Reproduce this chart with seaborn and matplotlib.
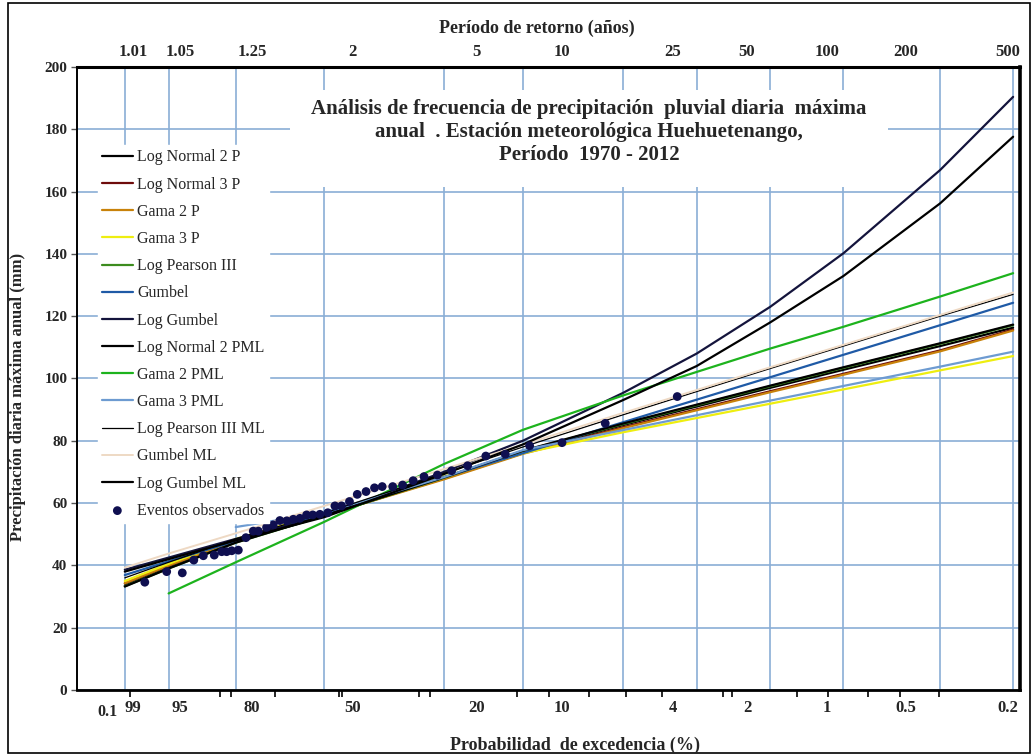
import numpy as np
import pandas as pd
import matplotlib
matplotlib.use("Agg")
import matplotlib.pyplot as plt
import seaborn as sns
from matplotlib.ticker import FixedLocator, NullFormatter
from matplotlib.patches import Rectangle

# return periods (years) where the fitted curves are evaluated (also the grid lines)
T_nodes = [1.01, 1.05, 1.25, 2, 5, 10, 25, 50, 100, 200, 500, 1000]

# fitted curves, precipitation (mm) at T_nodes; nan = not drawn
ln2p   = [33.5, 39.2, 47.5, 56.0, 68.0, 76.5, 85.0, 91.0, 97.0, 102.8, 110.4, 116.3]
ln3p   = [34.2, 39.9, 48.0, 56.2, 67.8, 76.0, 84.3, 90.1, 95.9, 101.5, 109.0, 115.7]
g2p    = [34.3, 40.0, 48.0, 56.1, 67.6, 75.8, 84.0, 89.8, 95.6, 101.2, 108.7, 115.4]
g3p    = [35.0, 40.5, 48.5, 56.8, 68.5, 76.0, 82.7, 87.3, 91.9, 96.5, 102.6, 107.2]
lp3    = [33.3, 39.0, 47.3, 55.9, 68.1, 76.7, 85.3, 91.4, 97.5, 103.4, 111.1, 117.1]
gumbel = [36.9, 41.3, 47.8, 56.5, 68.3, 76.0, 85.9, 93.2, 100.4, 107.6, 117.1, 124.3]
lgum   = [38.6, 42.5, 48.5, 55.8, 70.0, 80.0, 95.3, 108.0, 123.0, 140.2, 166.9, 190.4]
ln2pml = [33.2, 39.0, 47.3, 56.0, 68.2, 76.8, 85.5, 91.6, 97.7, 103.6, 111.3, 117.3]
g2pml  = [np.nan, 31.0, 41.0, 54.0, 72.5, 83.5, 94.5, 102.1, 109.6, 116.6, 126.3, 133.8]
g3pml  = [np.nan, np.nan, 52.3, 57.0, 68.3, 77.0, 83.4, 88.2, 92.9, 97.6, 103.8, 108.6]
lp3ml  = [36.0, 41.0, 48.5, 56.8, 69.5, 78.0, 88.3, 95.8, 103.2, 110.4, 120.0, 127.0]
gumml  = [39.3, 43.8, 50.3, 59.1, 70.9, 78.7, 88.9, 96.3, 103.6, 110.8, 120.4, 127.6]
lgumml = [38.0, 42.0, 48.0, 55.5, 69.3, 78.8, 93.0, 104.0, 118.0, 132.9, 156.2, 177.6]

series_names = ["Log Normal 2 P", "Log Normal 3 P", "Gama 2 P", "Gama 3 P",
                "Log Pearson III", "Gumbel", "Log Gumbel", "Log Normal 2 PML",
                "Gama 2 PML", "Gama 3 PML", "Log Pearson III ML", "Gumbel ML",
                "Log Gumbel ML"]
series_values = [ln2p, ln3p, g2p, g3p, lp3, gumbel, lgum, ln2pml,
                 g2pml, g3pml, lp3ml, gumml, lgumml]
series_colors = ["#000000", "#6e0b0b", "#c8820a", "#eeee10", "#3c8c1e", "#1f5aa6",
                 "#14143c", "#000000", "#1db31d", "#6d9bd1", "#000000", "#eed9c4",
                 "#000000"]
series_widths = [1.6, 1.6, 1.6, 1.6, 1.6, 1.6, 1.6, 1.6, 1.6, 1.6, 0.9, 1.4, 1.6]

# observed annual maxima: exceedance probability (%) and precipitation (mm)
obs_prob = [97.8, 95.5, 93.1, 90.9, 88.8, 86.1, 84.1, 82.7, 81.2, 79.2, 76.8,
            74.4, 72.7, 69.9, 67.6, 65.3, 62.9, 60.6, 58.3, 56.0, 53.9, 51.5,
            48.9, 46.6, 44.5, 42.1, 39.8, 37.3, 35.0, 33.0, 30.4, 28.1, 25.8,
            23.6, 21.1, 18.7, 16.3, 13.9, 11.7, 9.4, 7.0, 4.7, 2.4]
obs_mm = [34.6, 38.0, 37.6, 41.7, 43.1, 43.3, 44.4, 44.4, 44.7, 44.9, 48.9,
          51.0, 51.0, 52.2, 53.0, 54.4, 54.3, 54.8, 55.1, 56.2, 56.2, 56.4,
          56.9, 59.1, 59.1, 60.5, 62.8, 63.7, 64.9, 65.3, 65.3, 65.8, 67.2,
          68.5, 69.0, 70.4, 72.0, 75.1, 75.7, 78.4, 79.4, 85.6, 94.2]

# axis text
top_labels = ["1.01", "1.05", "1.25", "2", "5", "10", "25", "50", "100", "200", "500"]
bottom_labels = ["99", "95", "80", "50", "20", "10", "4", "2", "1", "0.5", "0.2"]
# where the (hand placed) labels sit, as return period
label_at_T = [1.0142, 1.0696, 1.337, 2.42, 6.61, 14.3, 40.0, 80.3, 171, 362, 953]
# small tick marks along the bottom axis, as return period
bottom_marks_T = [1.0125, 1.183, 1.229, 1.493, 2.21, 2.25, 4.07, 4.45, 9.5, 12.7,
                  18.3, 25.8, 36.1, 64.1, 69.8, 129, 173, 252, 342, 495]
y_ticks = list(range(0, 201, 20))


def to_gumbel(T):
    T = np.clip(np.asarray(T, dtype=float), 1 + 1e-9, None)
    return -np.log(-np.log(1.0 - 1.0 / T))


def from_gumbel(u):
    u = np.asarray(u, dtype=float)
    return 1.0 / (1.0 - np.exp(-np.exp(-u)))


sns.set_theme(style="white")
plt.rcParams["font.family"] = ["Liberation Serif", "DejaVu Serif"]

fig = plt.figure(figsize=(10.34, 7.55), dpi=100)
ax = fig.add_axes([0.0745, 0.0861, 0.912, 0.8252])

grid_c = "#8aaed6"
for name, vals, col, lw in zip(series_names, series_values, series_colors, series_widths):
    d = pd.DataFrame({"T": T_nodes, "mm": vals}).dropna()
    sns.lineplot(data=d, x="T", y="mm", color=col, lw=lw, label=name,
                 errorbar=None, ax=ax, zorder=3)

obs = pd.DataFrame({"T": 100.0 / np.array(obs_prob), "mm": obs_mm})
sns.scatterplot(data=obs, x="T", y="mm", color="#0f0f50", s=40, edgecolor="none",
                label="Eventos observados", ax=ax, zorder=4)

ax.set_xscale("function", functions=(to_gumbel, from_gumbel))
xlim_T = (1.0007, 1068)
ax.set_xlim(*xlim_T)
ax.set_ylim(0, 200)

# grid
ax.vlines(T_nodes, 0, 200, color=grid_c, lw=1.2, zorder=0.5)
ax.set_yticks(y_ticks)
ax.yaxis.grid(True, color=grid_c, lw=1.2)
ax.xaxis.grid(False)
ax.set_axisbelow(True)

# bottom axis
ax.xaxis.set_major_locator(FixedLocator(label_at_T))
ax.set_xticklabels(bottom_labels)
ax.xaxis.set_minor_locator(FixedLocator(bottom_marks_T))
ax.xaxis.set_minor_formatter(NullFormatter())
ax.tick_params(axis="x", which="major", length=0, pad=7, labelsize=12)
ax.tick_params(axis="x", which="minor", bottom=True, direction="out", length=5,
               width=1.2, color="black")
ax.tick_params(axis="y", left=True, length=4, width=1, color="#555555", pad=3,
               labelsize=11)
for t in ax.get_xticklabels() + ax.get_yticklabels():
    t.set_fontweight("bold")
ax.set_xlabel("")
ax.set_ylabel("")

for side, w in [("top", 2.2), ("right", 2.6), ("bottom", 2.0), ("left", 1.4)]:
    ax.spines[side].set_color("black")
    ax.spines[side].set_linewidth(w)

# top axis: return period
ax2 = ax.twiny()
ax2.set_xscale("function", functions=(to_gumbel, from_gumbel))
ax2.set_xlim(*xlim_T)
ax2.xaxis.set_major_locator(FixedLocator(label_at_T))
ax2.set_xticklabels(top_labels, fontweight="bold")
ax2.xaxis.set_minor_locator(FixedLocator([]))
ax2.tick_params(axis="x", length=0, pad=5, labelsize=12)
for s in ax2.spines.values():
    s.set_visible(False)

# legend
leg = ax.legend(loc="upper left", bbox_to_anchor=(0.022, 0.874), borderaxespad=0,
                fontsize=11.5, handlelength=1.95, handletextpad=0.25, labelspacing=0.70,
                borderpad=0.25, frameon=True, fancybox=False, framealpha=1,
                facecolor="white", edgecolor="white")
leg.set_zorder(6)

# title on a white box that hides the grid behind it
ax.add_patch(Rectangle((0.226, 0.808), 0.634, 0.155, transform=ax.transAxes,
                       facecolor="white", edgecolor="none", zorder=5))
ax.text(0.543, 0.895,
        "Análisis de frecuencia de precipitación  pluvial diaria  máxima\n"
        "anual  . Estación meteorológica Huehuetenango,\n"
        "Período  1970 - 2012",
        transform=ax.transAxes, ha="center", va="center", fontsize=15,
        fontweight="bold", linespacing=1.2, zorder=6)

# axis titles
fig.text(537 / 1034, 1 - 28 / 755, "Período de retorno (años)", ha="center", va="center",
         fontsize=13, fontweight="bold")
fig.text(575 / 1034, 1 - 745 / 755, "Probabilidad  de excedencia (%)", ha="center",
         va="center", fontsize=13, fontweight="bold")
fig.text(18 / 1034, 1 - 397 / 755, "Precipitación diaria máxima anual (mm)", ha="center",
         va="center", rotation=90, fontsize=12, fontweight="bold")
fig.text(108 / 1034, 1 - 712 / 755, "0.1", ha="center", va="center", fontsize=11.5,
         fontweight="bold")

# outer frame of the picture
fig.patches.append(Rectangle((8 / 1034, 2 / 755), 1022 / 1034, 750 / 755,
                             transform=fig.transFigure, fill=False,
                             edgecolor="black", lw=1.2))

fig.savefig("out.png", dpi=100)
